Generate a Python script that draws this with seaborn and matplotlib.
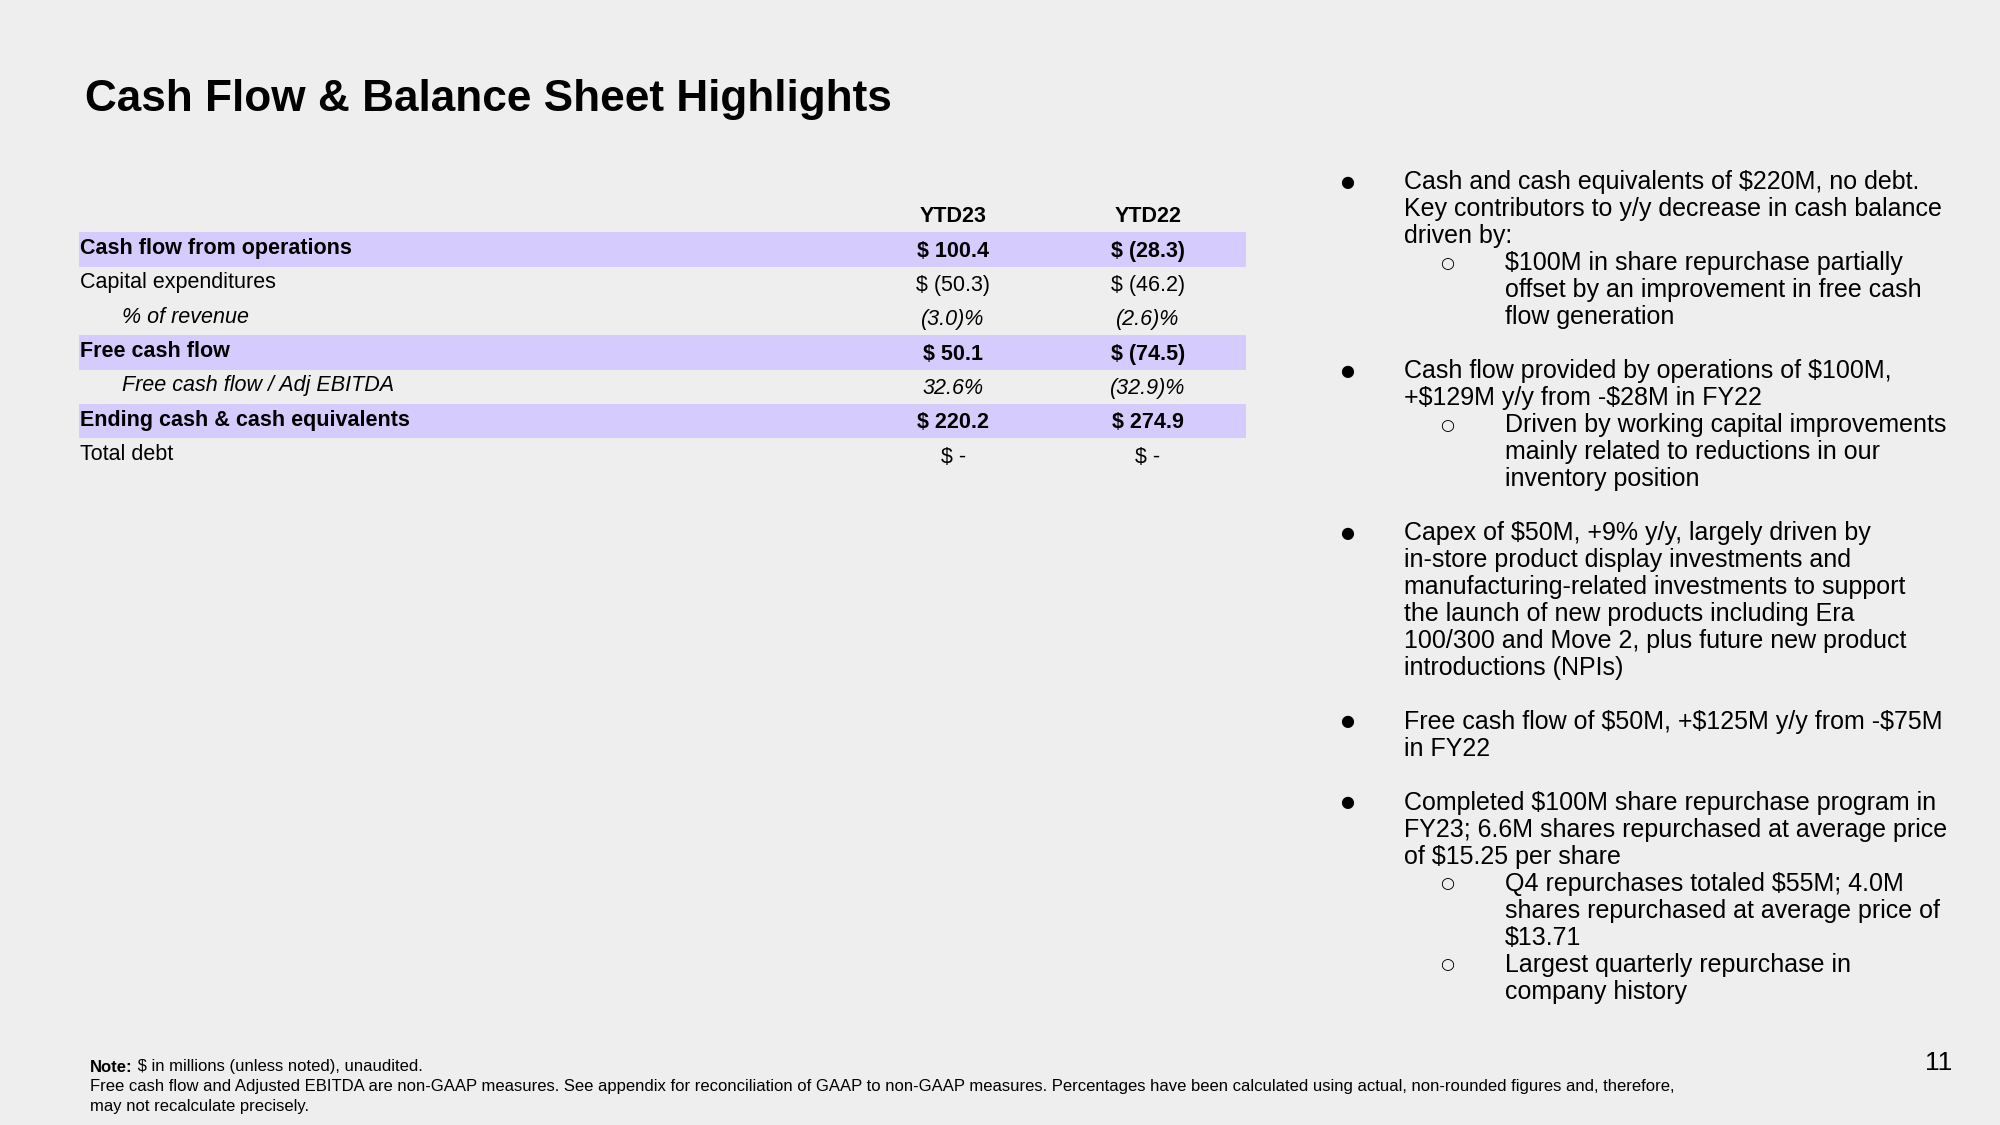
import matplotlib
matplotlib.use("Agg")
import matplotlib.pyplot as plt
import seaborn as sns
import pandas as pd

# Table data (values in $M, as printed on the slide)
COLUMNS = ["YTD23", "YTD22"]
ROW_LABELS = ["Cash flow from operations", "Capital expenditures", "% of revenue",
              "Free cash flow", "Free cash flow / Adj EBITDA",
              "Ending cash & cash equivalents", "Total debt"]
YTD23 = ["$ 100.4", "$ (50.3)", "(3.0)%", "$ 50.1", "32.6%", "$ 220.2", "$ -"]
YTD22 = ["$ (28.3)", "$ (46.2)", "(2.6)%", "$ (74.5)", "(32.9)%", "$ 274.9", "$ -"]
HIGHLIGHT = [1, 0, 0, 1, 0, 1, 0]
INDENTED = [0, 0, 1, 0, 1, 0, 0]

# Bullet text: (level, line); None = blank line
BULLETS = [
    (1, "Cash and cash equivalents of $220M, no debt."),
    (0, "Key contributors to y/y decrease in cash balance"),
    (0, "driven by:"),
    (2, "$100M in share repurchase partially"),
    (0, "offset by an improvement in free cash"),
    (0, "flow generation"),
    None,
    (1, "Cash flow provided by operations of $100M,"),
    (0, "+$129M y/y from -$28M in FY22"),
    (2, "Driven by working capital improvements"),
    (0, "mainly related to reductions in our"),
    (0, "inventory position"),
    None,
    (1, "Capex of $50M, +9% y/y, largely driven by"),
    (0, "in-store product display investments and"),
    (0, "manufacturing-related investments to support"),
    (0, "the launch of new products including Era"),
    (0, "100/300 and Move 2, plus future new product"),
    (0, "introductions (NPIs)"),
    None,
    (1, "Free cash flow of $50M, +$125M y/y from -$75M"),
    (0, "in FY22"),
    None,
    (1, "Completed $100M share repurchase program in"),
    (0, "FY23; 6.6M shares repurchased at average price"),
    (0, "of $15.25 per share"),
    (2, "Q4 repurchases totaled $55M; 4.0M"),
    (0, "shares repurchased at average price of"),
    (0, "$13.71"),
    (2, "Largest quarterly repurchase in"),
    (0, "company history"),
]

NOTE_LINES = [
    "Free cash flow and Adjusted EBITDA are non-GAAP measures. See appendix for reconciliation of GAAP to "
    "non-GAAP measures. Percentages have been calculated using actual, non-rounded figures and, therefore,",
    "may not recalculate precisely.",
]

BG = "#eeeeee"
BAND = "#d5cbfc"
W, H = 2000, 1125

sns.set_theme(style="white", rc={"figure.facecolor": BG, "axes.facecolor": BG})
plt.rcParams["font.family"] = ["Liberation Sans", "DejaVu Sans"]
plt.rcParams["text.color"] = "black"
plt.rcParams["text.parse_math"] = False

fig = plt.figure(figsize=(20, 11.25), dpi=100)


def fx(px):
    return px / W


def fy(py):
    return 1 - py / H


# Title
fig.text(fx(85), fy(99), "Cash Flow & Balance Sheet Highlights", fontsize=31.8,
         fontweight="bold", va="center", ha="left")

# Table axes: header row at position 0, data rows 1..7
pitch = 34.33
top_px = 249.5 - 1.5 * pitch
bot_px = 455.5 + 0.5 * pitch
ax = fig.add_axes([fx(79), fy(bot_px), fx(1246) - fx(79), (bot_px - top_px) / H])

df = pd.DataFrame({"row": [""] + ROW_LABELS, "band": [0] + HIGHLIGHT})
sns.barplot(data=df, y="row", x="band", orient="h", color=BAND, width=1.0,
            saturation=1, ax=ax, edgecolor="none")
ax.set_xlim(0, 1)
ax.set_ylim(len(df) - 0.5, -0.5)
ax.set_axis_off()

tsize = 15.5
col_x = [0.749, 0.916]
for j, c in enumerate(COLUMNS):
    ax.text(col_x[j], 0.05, c, ha="center", va="center", fontsize=tsize, fontweight="bold")

for i, label in enumerate(ROW_LABELS):
    y = i + 1
    bold = HIGHLIGHT[i] == 1
    ital = INDENTED[i] == 1
    weight = "bold" if bold else "normal"
    style = "italic" if ital else "normal"
    x0 = 0.037 if ital else 0.001
    ax.text(x0, y - 0.03, label, ha="left", va="center", fontsize=tsize,
            fontweight=weight, fontstyle=style)
    for j, vals in enumerate([YTD23, YTD22]):
        ax.text(col_x[j], y + 0.05, vals[i], ha="center", va="center", fontsize=tsize,
                fontweight=weight, fontstyle=style)

# Bullets on the right
line_pitch = 26.97
y_px = 182.5
cur_x = 1404
for item in BULLETS:
    if item is not None:
        level, line = item
        if level == 1:
            cur_x = 1404
            fig.text(fx(1347), fy(y_px), "●", fontsize=11.5, ha="center", va="center",
                     family=["DejaVu Sans"])
        elif level == 2:
            cur_x = 1505
            fig.text(fx(1447), fy(y_px), "○", fontsize=11.5, ha="center", va="center",
                     family=["DejaVu Sans"])
        fig.text(fx(cur_x), fy(y_px), line, fontsize=18, ha="left", va="center")
    y_px += line_pitch

# Footnote
fsize = 12.0
note = fig.text(fx(90), fy(1067), "Note:", fontsize=fsize, fontweight="bold",
                ha="left", va="center")
plt.annotate(" $ in millions (unless noted), unaudited.", xy=(1, 0.5), xycoords=note,
             fontsize=fsize, ha="left", va="center", annotation_clip=False)
for k, line in enumerate(NOTE_LINES):
    fig.text(fx(90), fy(1087 + 20 * k), line, fontsize=fsize, ha="left", va="center")

# Page number
fig.text(fx(1939), fy(1063), "11", fontsize=19, ha="center", va="center")

fig.savefig("out.png", dpi=100, facecolor=BG)
